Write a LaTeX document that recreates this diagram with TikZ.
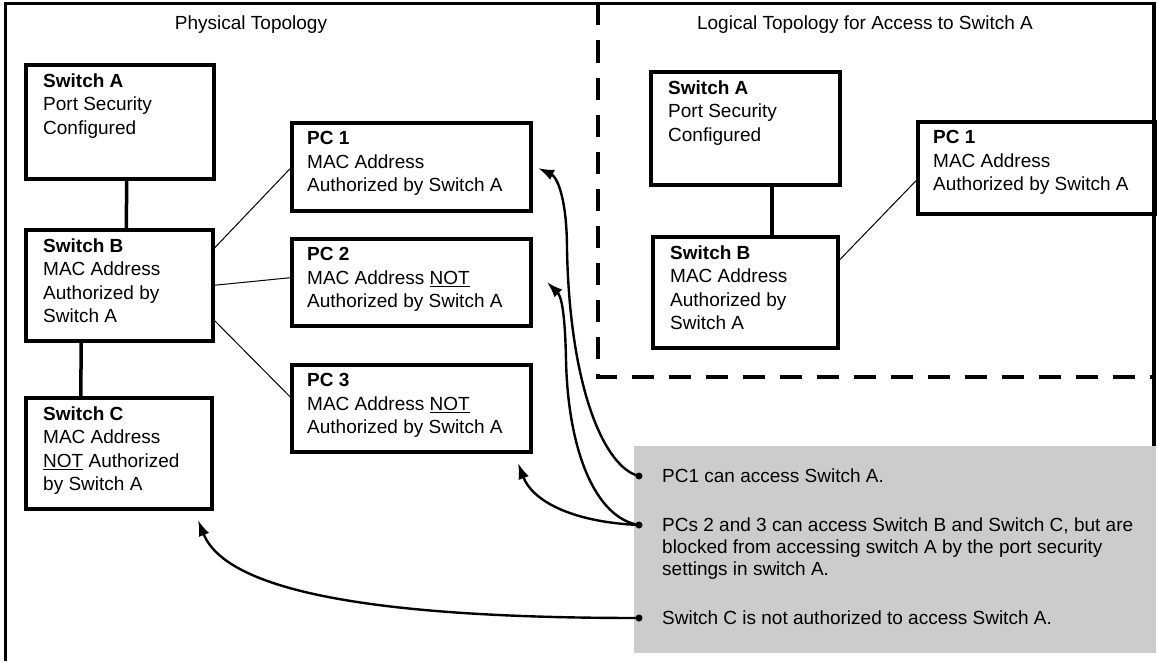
\documentclass[tikz,border=0pt]{standalone}
\usepackage{fontspec}
\setmainfont{Liberation Sans}
\usepackage{tikz}
\usepackage{xcolor}
\usetikzlibrary{arrows.meta}
\definecolor{notegray}{RGB}{204,204,204}

\begin{document}
\begin{tikzpicture}[x=1pt, y=-1pt, font=\fontsize{19}{23.5}\selectfont,
    netbox/.style={draw, line width=3.5pt, anchor=north west, inner sep=0pt},
    txt/.style={anchor=north west, align=left, inner sep=0pt},
    thick link/.style={line width=3.5pt},
    thin link/.style={line width=1pt},
    hint/.style={-{Latex[length=16pt,width=11pt]}, line width=2.4pt},
    bulletdot/.style={circle, fill, inner sep=0pt, minimum size=7pt}]
\useasboundingbox (0,0) rectangle (1158,661);

% marco y separacion
\draw[line width=3.5pt] (5.5,661) -- (5.5,3.5) -- (1154,3.5) -- (1154,450);
\draw[line width=3.5pt, dash pattern=on 22pt off 15pt] (598,3.5) -- (598,377) -- (1154,377);

\node[anchor=base] (physT) at (251,30) {Physical Topology};
\node[anchor=base] (logT) at (865,29.5) {Logical Topology for Access to Switch A};

% topologia fisica
\node[netbox, minimum width=188pt, minimum height=114pt] (swA) at (24,63) {};
\node[netbox, minimum width=187pt, minimum height=111pt] (swB) at (24,228) {};
\node[netbox, minimum width=186pt, minimum height=111pt] (swC) at (24,396) {};
\node[netbox, minimum width=239pt, minimum height=88pt] (pcA) at (290,121) {};
\node[netbox, minimum width=239pt, minimum height=87pt] (pcB) at (290,237) {};
\node[netbox, minimum width=239pt, minimum height=87pt] (pcC) at (290,363) {};

\node[txt] (swAtxt) at ([shift={(19,10.5)}]swA.north west) {\textbf{Switch A}\\Port Security\\Configured};
\node[txt] (swBtxt) at ([shift={(19,10.5)}]swB.north west) {\textbf{Switch B}\\MAC Address\\Authorized by\\Switch A};
\node[txt] (swCtxt) at ([shift={(19,10.5)}]swC.north west) {\textbf{Switch C}\\MAC Address\\\underline{NOT} Authorized\\by Switch A};
\node[txt] (pcAtxt) at ([shift={(17,10.5)}]pcA.north west) {\textbf{PC 1}\\MAC Address\\Authorized by Switch A};
\node[txt] (pcBtxt) at ([shift={(17,10.5)}]pcB.north west) {\textbf{PC 2}\\MAC Address \underline{NOT}\\Authorized by Switch A};
\node[txt] (pcCtxt) at ([shift={(17,10.5)}]pcC.north west) {\textbf{PC 3}\\MAC Address \underline{NOT}\\Authorized by Switch A};

\draw[thick link] ([xshift=7pt]swA.south) -- ([xshift=7pt]swB.north);
\draw[thick link] ([xshift=-38pt]swB.south) -- ([xshift=-38pt]swC.north);
\draw[thin link] ([yshift=-20pt]swB.north east) -- ([yshift=-2pt]pcA.west);
\draw[thin link] (swB.east) -- ([yshift=4.5pt]pcB.west);
\draw[thin link] ([yshift=22pt]swB.south east) -- ([yshift=11.5pt]pcC.west);

% topologia logica
\node[netbox, minimum width=189pt, minimum height=113pt] (lswA) at (649,70) {};
\node[netbox, minimum width=185pt, minimum height=111pt] (lswB) at (651,235) {};
\node[netbox, minimum width=237pt, minimum height=92pt] (lpcA) at (916,120) {};

\node[txt] (lswAtxt) at ([shift={(19,10.5)}]lswA.north west) {\textbf{Switch A}\\Port Security\\Configured};
\node[txt] (lswBtxt) at ([shift={(19,10.5)}]lswB.north west) {\textbf{Switch B}\\MAC Address\\Authorized by\\Switch A};
\node[txt] (lpcAtxt) at ([shift={(17,10.5)}]lpcA.north west) {\textbf{PC 1}\\MAC Address\\Authorized by Switch A};

\draw[thick link] ([xshift=26.5pt]lswA.south) -- ([xshift=26.5pt]lswB.north);
\draw[thin link] ([yshift=-25pt]lswB.north east) -- ([yshift=-13pt]lpcA.west);

% notas
\node[fill=notegray, anchor=north west, minimum width=522pt, minimum height=207pt, inner sep=0pt] (notes) at (634,446) {};
\node[bulletdot] (dA) at (639,476) {};
\node[bulletdot] (dB) at (639,525) {};
\node[bulletdot] (dC) at (639,618) {};
\node[txt] (nA) at ([shift={(23,-7.3)}]dA) {PC1 can access Switch A.};
\node[txt, font=\fontsize{19}{22}\selectfont] (nB) at ([shift={(23,-7.3)}]dB) {PCs 2 and 3 can access Switch B and Switch C, but are\\blocked from accessing switch A by the port security\\settings in switch A.};
\node[txt] (nC) at ([shift={(23,-7.3)}]dC) {Switch C is not authorized to access Switch A.};

\coordinate (tA) at (538,168);
\coordinate (tB) at (547,282);
\coordinate (tC) at (518,463);
\coordinate (tD) at (198,520);
\draw[hint] (dA.center) .. controls (605,468) and (570,390) .. (567,250) .. controls (567,198) and (557,177) .. (tA);
\draw[hint] (dB.center) .. controls (595,518) and (568,450) .. (566,360) .. controls (565,310) and (561,296) .. (tB);
\draw[hint] (dB.center) .. controls (570,522) and (532,500) .. (tC);
\draw[hint] (dC.center) .. controls (420,618) and (230,600) .. (tD);
\end{tikzpicture}
\end{document}
